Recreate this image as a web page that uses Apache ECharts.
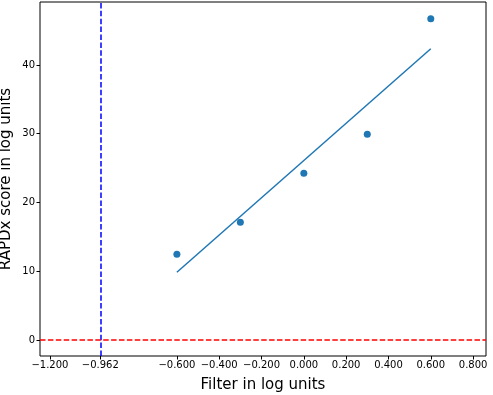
<!DOCTYPE html>
<html>
<head>
<meta charset="utf-8">
<script src="https://cdn.jsdelivr.net/npm/echarts@6/dist/echarts.min.js"></script>
<style>
  html, body { margin: 0; padding: 0; background: #fff; }
  #chart { width: 493px; height: 395px; }
</style>
</head>
<body>
<div id="chart"></div>
<script>
// measured points (filter in log units vs RAPDx score)
var filterX = [-0.6, -0.3, 0.0, 0.3, 0.6];
var rapdY = [12.47, 17.12, 24.24, 29.9, 46.7];
// fitted line end points
var fitX = [-0.6, 0.6];
var fitY = [9.85, 42.35];
// reference lines
var threshX = -0.962;
var zeroY = 0;
// tick labels
var xTicks = [-1.2, -0.962, -0.6, -0.4, -0.2, 0.0, 0.2, 0.4, 0.6, 0.8];
var yTicks = [0, 10, 20, 30, 40];

var chart = echarts.init(document.getElementById('chart'));

function fmtX(v) {
    var s = Math.abs(v).toFixed(3);
    if (v < -1e-9) s = '\u2212' + s;
    return s;
}

var scatterData = filterX.map(function (x, i) { return [x, rapdY[i]]; });
var fitData = fitX.map(function (x, i) { return [x, fitY[i]]; });

chart.setOption({
    animation: false,
    backgroundColor: '#fff',
    textStyle: { fontFamily: 'DejaVu Sans' },
    grid: {
        left: 40, right: 7, top: 2, bottom: 39,
        outerBoundsMode: 'none',
        containLabel: false,
        show: true, borderColor: '#000', borderWidth: 1, backgroundColor: 'transparent'
    },
    xAxis: {
        type: 'value',
        min: -1.247, max: 0.861,
        name: 'Filter in log units',
        nameLocation: 'middle',
        nameGap: 22,
        nameMoveOverlap: false,
        nameTextStyle: { fontSize: 15, color: '#000', fontFamily: 'DejaVu Sans' },
        axisLine: { show: false, onZero: false },
        axisTick: { show: true, length: 3.5, lineStyle: { color: '#000' }, customValues: xTicks },
        axisLabel: { fontSize: 10, color: '#000', margin: 4, formatter: fmtX, customValues: xTicks },
        splitLine: { show: false }
    },
    yAxis: {
        type: 'value',
        min: -2.34, max: 49.15,
        name: 'RAPDx score in log units',
        nameLocation: 'middle',
        nameGap: 26,
        nameMoveOverlap: false,
        nameTextStyle: { fontSize: 15, color: '#000', fontFamily: 'DejaVu Sans' },
        axisLine: { show: false, onZero: false },
        axisTick: { show: true, length: 3.5, lineStyle: { color: '#000' }, customValues: yTicks },
        axisLabel: { fontSize: 10, color: '#000', margin: 5, customValues: yTicks },
        splitLine: { show: false }
    },
    series: [
        {
            type: 'line',
            data: fitData,
            symbol: 'none',
            lineStyle: { color: '#1f77b4', width: 1.5 },
            z: 2,
            markLine: {
                silent: true,
                symbol: 'none',
                label: { show: false },
                data: [
                    { xAxis: threshX, lineStyle: { color: '#0000ff', type: [5.5, 2.4], width: 1.5 } },
                    { yAxis: zeroY, lineStyle: { color: '#ff0000', type: [5.5, 2.4], width: 1.5 } }
                ]
            }
        },
        {
            type: 'scatter',
            data: scatterData,
            symbolSize: 7,
            itemStyle: { color: '#1f77b4', opacity: 1 },
            z: 3
        }
    ]
});
</script>
</body>
</html>
